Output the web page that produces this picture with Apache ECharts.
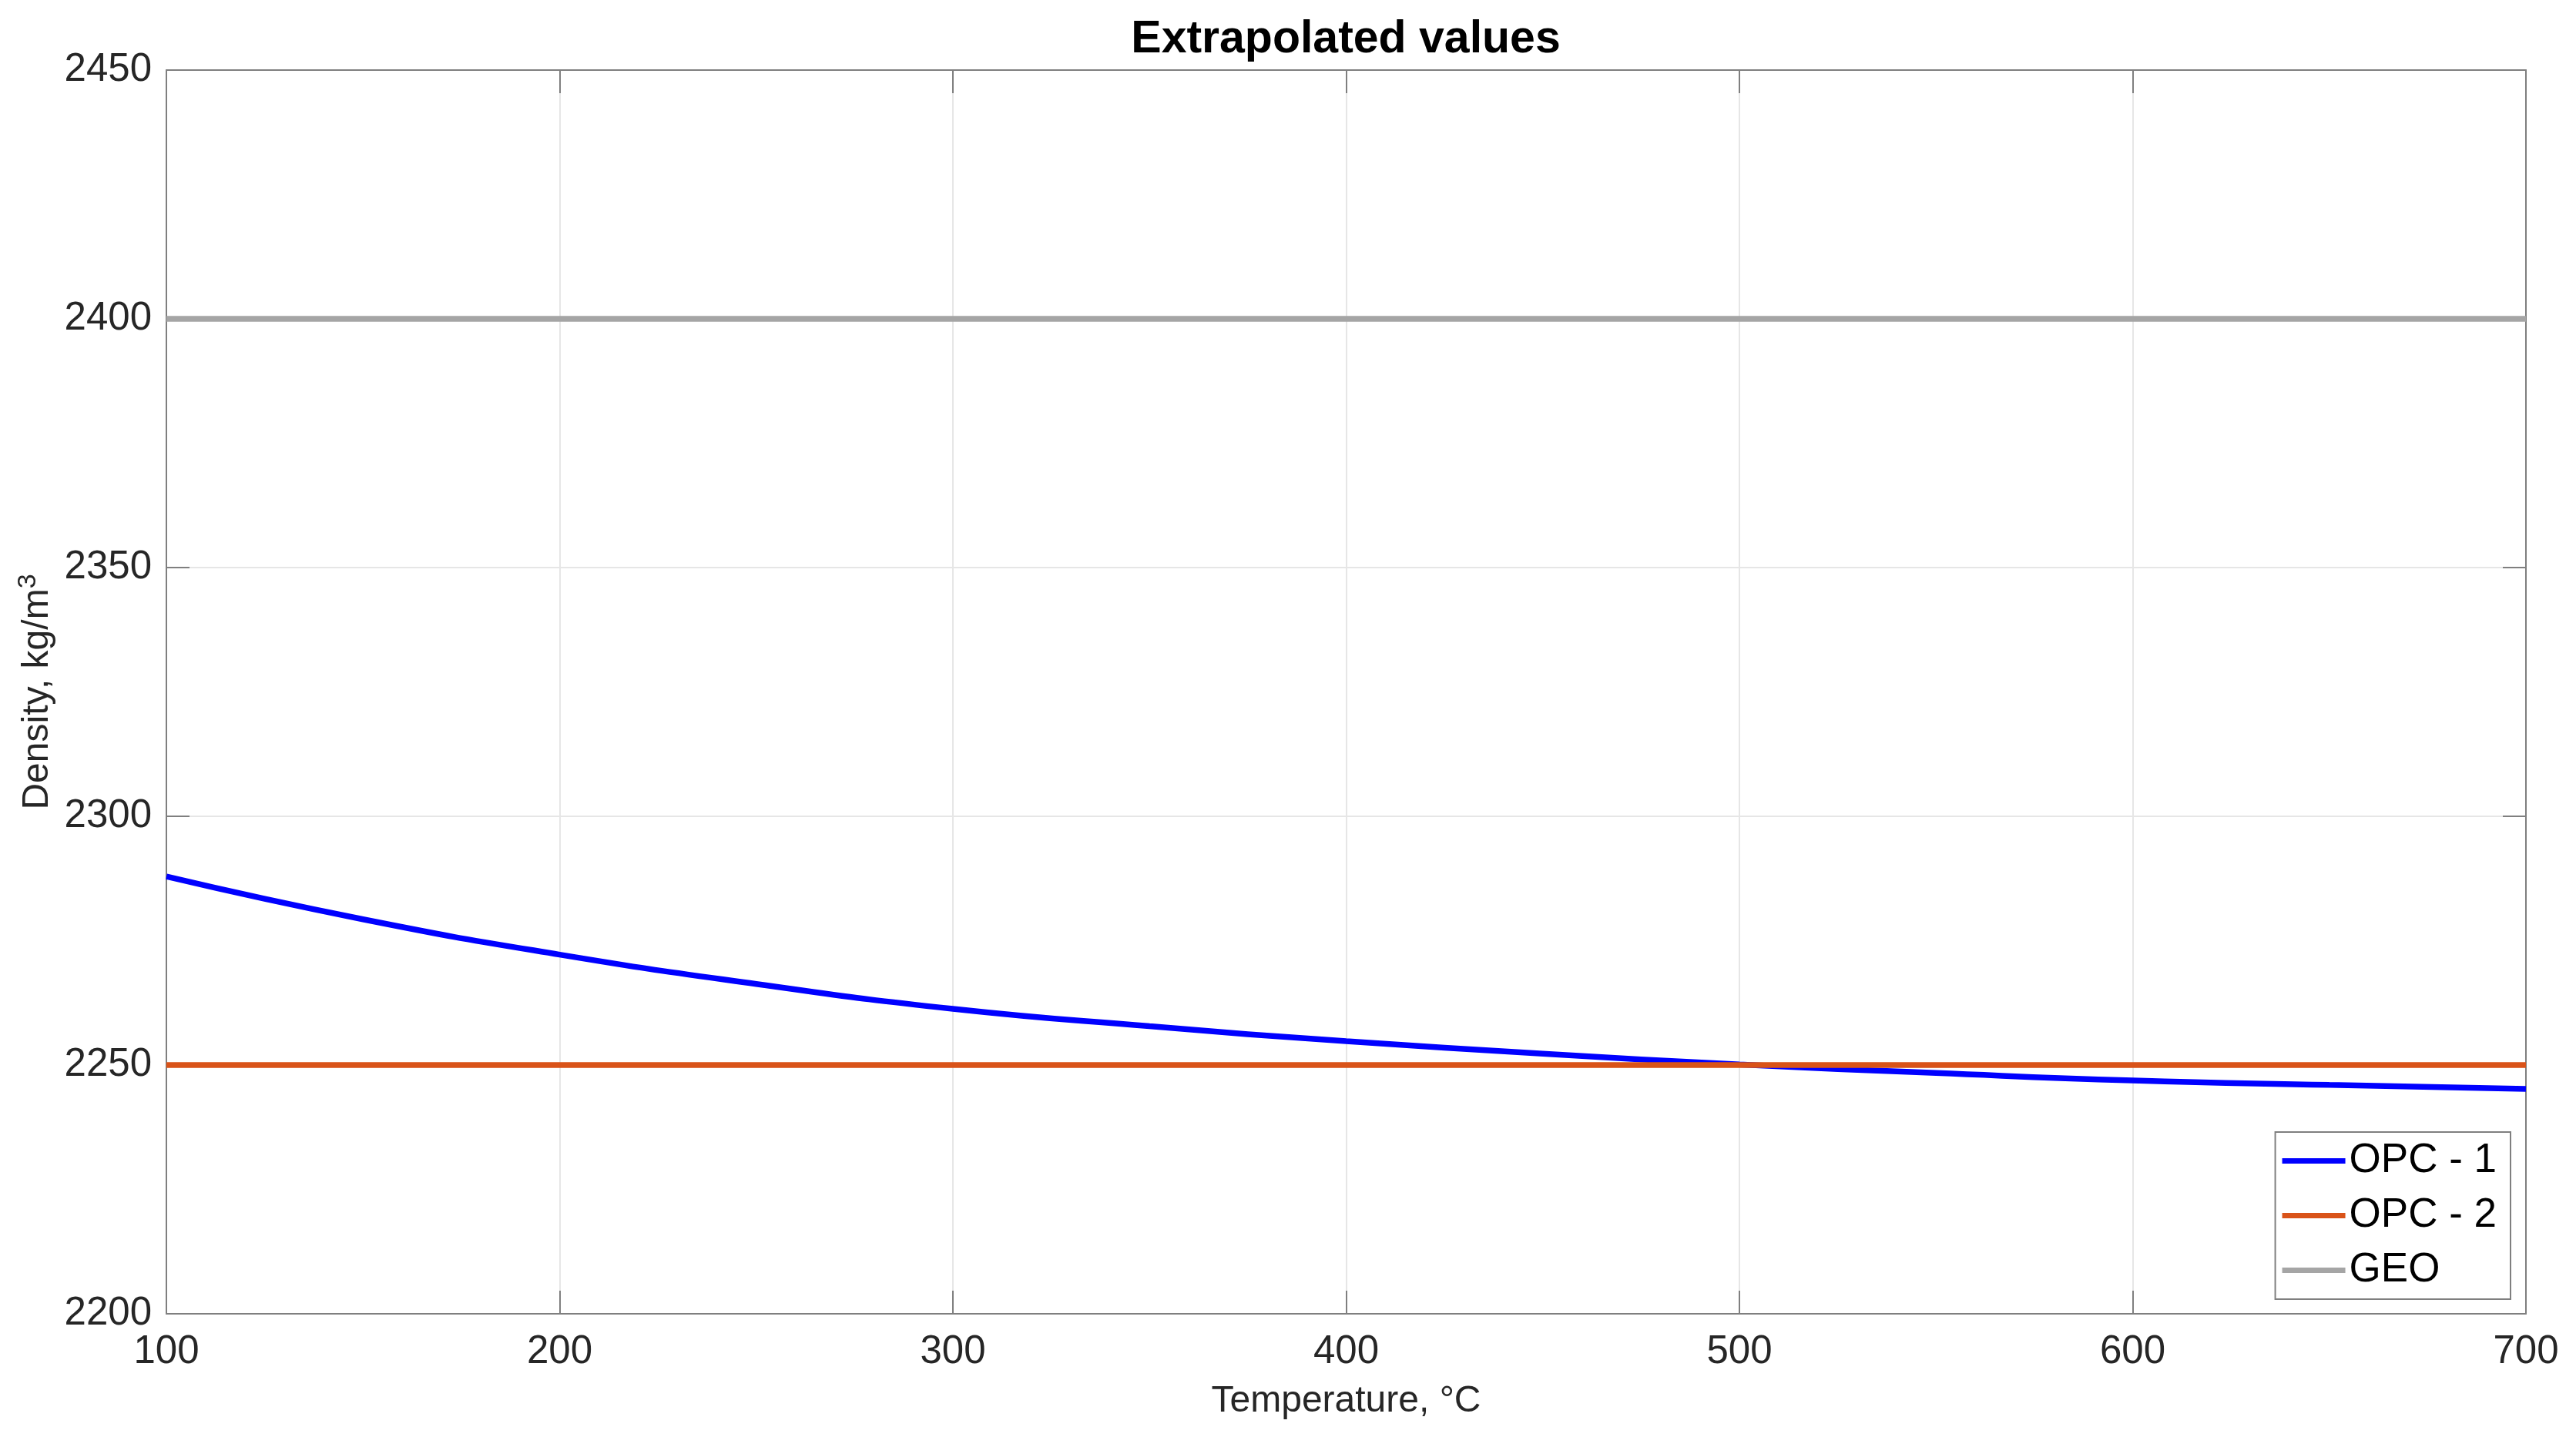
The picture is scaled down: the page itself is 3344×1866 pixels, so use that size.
<!DOCTYPE html>
<html>
<head>
<meta charset="utf-8">
<script src="https://cdn.jsdelivr.net/npm/echarts@6/dist/echarts.min.js"></script>
<style>
html, body { margin: 0; padding: 0; background: #fff; }
#chart { width: 3344px; height: 1866px; }
</style>
</head>
<body>
<div id="chart"></div>
<script>
const titleText = 'Extrapolated values';
const xName = 'Temperature, °C';
const seriesNames = ['OPC - 1', 'OPC - 2', 'GEO'];
const temperature = [100, 150, 200, 250, 300, 350, 400, 450, 500, 550, 600, 650, 700];
const opc1 = [2287.9, 2279.3, 2272.2, 2266.3, 2261.3, 2257.8, 2254.8, 2252.3, 2250.1, 2248.4, 2246.9, 2246.0, 2245.2];
const opc2 = [2250, 2250, 2250, 2250, 2250, 2250, 2250, 2250, 2250, 2250, 2250, 2250, 2250];
const geo = [2400, 2400, 2400, 2400, 2400, 2400, 2400, 2400, 2400, 2400, 2400, 2400, 2400];
const xTicks = [100, 200, 300, 400, 500, 600, 700];
const yTicks = [2200, 2250, 2300, 2350, 2400, 2450];

const FONT = '"Liberation Sans", Arial, sans-serif';
const AXIS_COLOR = '#7f7f7f';
const GRID_COLOR = '#e6e6e6';

function pairs(xs, ys) { return xs.map((x, i) => [x, ys[i]]); }
function plain(v) { return String(v); }

const chart = echarts.init(document.getElementById('chart'), null, { renderer: 'canvas' });

const xMin = xTicks[0], xMax = xTicks[xTicks.length - 1], xInt = xTicks[1] - xTicks[0];
const yMin = yTicks[0], yMax = yTicks[yTicks.length - 1], yInt = yTicks[1] - yTicks[0];

const baseAxisLine = { show: true, onZero: false, lineStyle: { color: AXIS_COLOR, width: 2 } };
const baseTick = { show: true, inside: true, length: 30, lineStyle: { color: AXIS_COLOR, width: 2 } };

chart.setOption({
  animation: false,
  backgroundColor: '#ffffff',
  title: {
    text: titleText,
    left: 1747,
    textAlign: 'center',
    top: 22,
    padding: 0,
    textStyle: { fontFamily: FONT, fontSize: 59, fontWeight: 'bold', color: '#000000' }
  },
  grid: { left: 216, right: 65, top: 91, bottom: 160, containLabel: false },
  legend: {
    data: seriesNames,
    orient: 'vertical',
    right: 85,
    top: 1470,
    align: 'left',
    icon: 'rect',
    itemWidth: 82,
    itemHeight: 7,
    itemGap: 18,
    padding: [11, 18, 11, 9],
    borderColor: AXIS_COLOR,
    borderWidth: 2,
    backgroundColor: '#ffffff',
    textStyle: { fontFamily: FONT, fontSize: 53, lineHeight: 52, color: '#000000' }
  },
  xAxis: [
    {
      type: 'value',
      min: xMin, max: xMax, interval: xInt,
      position: 'bottom',
      name: xName,
      nameLocation: 'middle',
      nameGap: 90,
      nameTextStyle: { fontFamily: FONT, fontSize: 48, color: '#262626' },
      axisLine: baseAxisLine,
      axisTick: baseTick,
      axisLabel: { margin: 24, fontFamily: FONT, fontSize: 51, color: '#262626', formatter: plain },
      splitLine: { show: true, lineStyle: { color: GRID_COLOR, width: 2 } }
    },
    {
      type: 'value',
      min: xMin, max: xMax, interval: xInt,
      position: 'top',
      axisLine: baseAxisLine,
      axisTick: baseTick,
      axisLabel: { show: false },
      splitLine: { show: false }
    }
  ],
  yAxis: [
    {
      type: 'value',
      min: yMin, max: yMax, interval: yInt,
      position: 'left',
      name: 'Density, kg/m{sup|3}',
      nameLocation: 'middle',
      nameRotate: 90,
      nameGap: 121,
      nameTextStyle: {
        fontFamily: FONT, fontSize: 48, color: '#262626',
        rich: { sup: { fontFamily: FONT, fontSize: 34, color: '#262626', verticalAlign: 'top', padding: [0, 0, 24, 0] } }
      },
      axisLine: baseAxisLine,
      axisTick: baseTick,
      axisLabel: { margin: 19, fontFamily: FONT, fontSize: 51, color: '#262626', formatter: plain },
      splitLine: { show: true, lineStyle: { color: GRID_COLOR, width: 2 } }
    },
    {
      type: 'value',
      min: yMin, max: yMax, interval: yInt,
      position: 'right',
      axisLine: baseAxisLine,
      axisTick: baseTick,
      axisLabel: { show: false },
      splitLine: { show: false }
    }
  ],
  series: [
    {
      name: seriesNames[0], type: 'line', data: pairs(temperature, opc1),
      xAxisIndex: 0, yAxisIndex: 0, smooth: true, showSymbol: false, symbol: 'none',
      lineStyle: { color: '#0000ff', width: 7.5 }, itemStyle: { color: '#0000ff' }
    },
    {
      name: seriesNames[1], type: 'line', data: pairs(temperature, opc2),
      xAxisIndex: 0, yAxisIndex: 0, showSymbol: false, symbol: 'none',
      lineStyle: { color: '#d95319', width: 7.5 }, itemStyle: { color: '#d95319' }
    },
    {
      name: seriesNames[2], type: 'line', data: pairs(temperature, geo),
      xAxisIndex: 0, yAxisIndex: 0, showSymbol: false, symbol: 'none',
      lineStyle: { color: '#a5a5a5', width: 7.5 }, itemStyle: { color: '#a5a5a5' }
    }
  ]
});
</script>
</body>
</html>
